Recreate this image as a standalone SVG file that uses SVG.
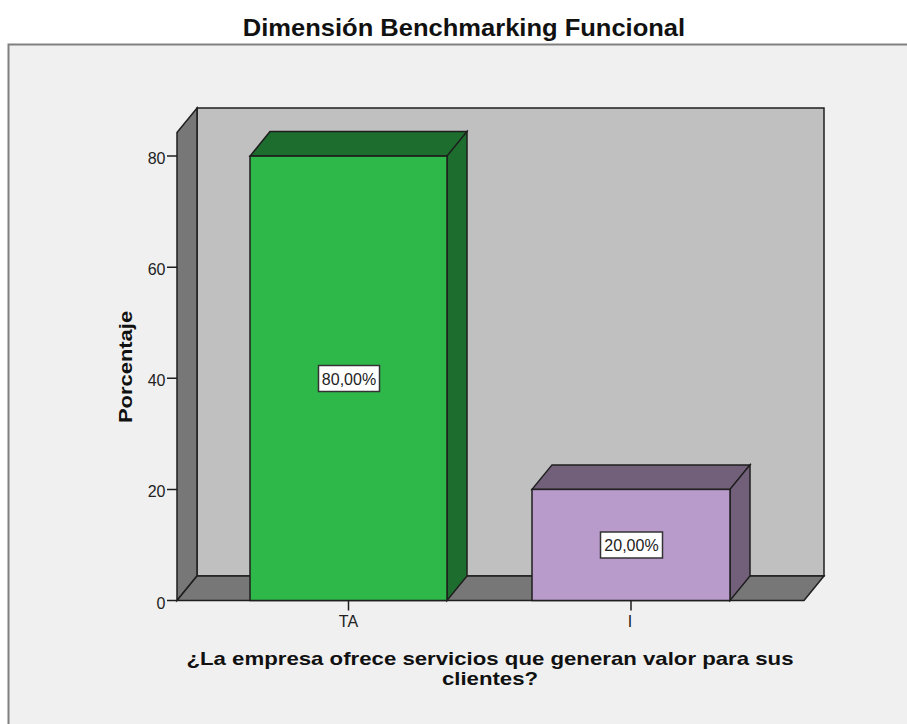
<svg xmlns="http://www.w3.org/2000/svg" width="907" height="724" viewBox="0 0 907 724">
  <style>
    .edge { stroke: #1e1e1e; stroke-width: 1.5; stroke-linejoin: miter; }
    .wall { fill: #c0c0c0; }
    .side { fill: #777777; }
    .tick { stroke: #1e1e1e; stroke-width: 1.5; fill: none; }
    .tl { font-family: "Liberation Sans", Arial, sans-serif; font-size: 16px; fill: #222; }
    .ttl { font-family: "Liberation Sans", Arial, sans-serif; font-weight: bold; fill: #111; text-anchor: middle; }
    .axt { font-size: 18px; }
    .lbox { fill: #ffffff; stroke: #333333; stroke-width: 1.5; }
  </style>

  <!-- page background and chart frame -->
  <rect x="0" y="0" width="907" height="724" fill="#ffffff"/>
  <rect x="8.5" y="44.5" width="1000" height="1000" fill="#f0f0f0" stroke="#808080" stroke-width="2"/>

  <text id="title" class="ttl" font-size="23" transform="translate(464,36) scale(1.11,1)">Dimensión Benchmarking Funcional</text>

  <!-- 3D plot box: back wall, left wall, floor -->
  <g id="plot-box">
    <rect class="wall edge" x="197" y="108" width="627" height="468"/>
    <polygon class="side edge" points="177,132.5 197,108 197,576 177,600.5"/>
    <polygon class="side edge" points="177,600.5 197,576 824,576 804,600.5"/>
  </g>

  <!-- Y axis ticks and labels -->
  <g id="y-axis">
    <path class="tick" d="M167,600.5H177M167,489.4H177M167,378.3H177M167,267.2H177M167,156.1H177"/>
    <text class="tl" x="165.5" y="608.5" text-anchor="end">0</text>
    <text class="tl" x="165.5" y="497.4" text-anchor="end">20</text>
    <text class="tl" x="165.5" y="386.3" text-anchor="end">40</text>
    <text class="tl" x="165.5" y="275.2" text-anchor="end">60</text>
    <text class="tl" x="165.5" y="164.1" text-anchor="end">80</text>
    <text class="ttl axt" transform="translate(132,367) rotate(-90) scale(1.22,1)">Porcentaje</text>
  </g>

  <!-- bar TA: 80 % -->
  <g id="bar-ta">
    <polygon class="edge" fill="#1d6e2e" points="250,156.1 270,131.6 467,131.6 447,156.1"/>
    <polygon class="edge" fill="#1d6e2e" points="447,156.1 467,131.6 467,576 447,600.5"/>
    <rect class="edge" fill="#2eb84a" x="250" y="156.1" width="197" height="444.4"/>
    <rect class="lbox" x="318.5" y="365.5" width="61" height="26"/>
    <text class="tl" x="349" y="384.5" text-anchor="middle">80,00%</text>
  </g>

  <!-- bar I: 20 % -->
  <g id="bar-i">
    <polygon class="edge" fill="#72607a" points="532,489.4 552,464.9 750,464.9 730,489.4"/>
    <polygon class="edge" fill="#72607a" points="730,489.4 750,464.9 750,576 730,600.5"/>
    <rect class="edge" fill="#b89bca" x="532" y="489.4" width="198" height="111.1"/>
    <rect class="lbox" x="600.5" y="532" width="62" height="26"/>
    <text class="tl" x="631.5" y="551" text-anchor="middle">20,00%</text>
  </g>

  <!-- X axis ticks, categories and title -->
  <g id="x-axis">
    <path class="tick" d="M348.5,600.5V610.5M631,600.5V610.5"/>
    <text class="tl" x="348.5" y="627" text-anchor="middle">TA</text>
    <text class="tl" x="630" y="627" text-anchor="middle">I</text>
    <text class="ttl axt" transform="translate(490,665) scale(1.234,1)">¿La empresa ofrece servicios que generan valor para sus</text>
    <text class="ttl axt" transform="translate(490,685) scale(1.234,1)">clientes?</text>
  </g>
</svg>
